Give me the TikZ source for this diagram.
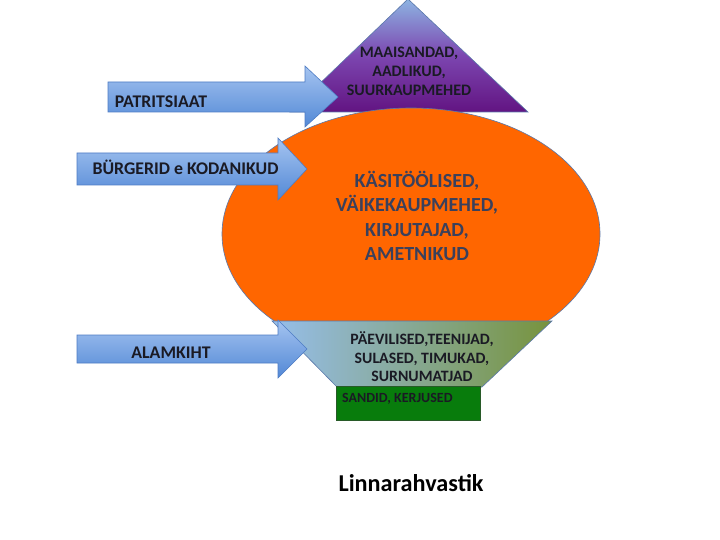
\documentclass[tikz,border=0pt]{standalone}
\usepackage{fontspec}
\setmainfont{Carlito}
\usetikzlibrary{shapes.geometric}
\definecolor{arrowlight}{RGB}{165,196,240}
\definecolor{arrowdark}{RGB}{82,136,214}
\definecolor{arrowline}{RGB}{78,124,196}
\definecolor{triblue}{RGB}{141,180,226}
\definecolor{trimid}{RGB}{124,70,176}
\definecolor{tripurple}{RGB}{98,20,130}
\definecolor{ellorange}{RGB}{255,102,0}
\definecolor{edgeblue}{RGB}{90,120,170}
\definecolor{olive}{RGB}{119,147,60}
\definecolor{trapblue}{RGB}{150,190,235}
\definecolor{boxgreen}{RGB}{8,124,12}
\definecolor{boxline}{RGB}{40,90,40}
\definecolor{darktext}{RGB}{26,26,36}
\definecolor{slatetext}{RGB}{58,64,92}
\tikzset{
  blockarrow/.style={top color=arrowlight, bottom color=arrowdark, draw=arrowline, line width=0.6pt, line join=miter},
  tri/.style={top color=triblue, bottom color=tripurple, middle color=trimid, draw=edgeblue, line width=0.6pt},
  ell/.style={fill=ellorange, draw=edgeblue, line width=0.6pt},
  trap/.style={left color=trapblue, middle color=olive, right color=olive, draw=edgeblue, line width=0.6pt},
  gbox/.style={fill=boxgreen, draw=boxline, line width=0.6pt},
  lbl/.style={inner sep=0pt, align=center, text=darktext},
}
\begin{document}
\begin{tikzpicture}[x=1pt,y=-1pt]
\useasboundingbox (0,0) rectangle (720,540);
\fill[white] (0,0) rectangle (720,540);

% apex of society
\draw[tri] (290,112) -- (408,-1) -- (528,112) -- cycle;
% middle class
\draw[ell] (411,234) ellipse [x radius=189pt, y radius=126pt];
% lower class
\draw[trap] (272,321) -- (552,321) -- (482,387) -- (337,387) -- cycle;
% poor
\draw[gbox] (336,386) rectangle (480,420);

% arrows
\draw[blockarrow] (108,82) -- (305,82) -- (305,66) -- (338,97) -- (305,127) -- (305,112) -- (108,112) -- cycle;
\draw[blockarrow] (77,153) -- (278,153) -- (278,138) -- (307,169) -- (278,200) -- (278,185) -- (77,185) -- cycle;
\draw[blockarrow] (77,335) -- (278,335) -- (278,320) -- (307,349) -- (278,378) -- (278,363) -- (77,363) -- cycle;

% texts
\node[lbl, font=\bfseries\fontsize{16}{19}\selectfont] (top) at (409,71) {MAAISANDAD,\\AADLIKUD,\\SUURKAUPMEHED};
\node[lbl, text=slatetext, font=\bfseries\fontsize{20}{24.2}\selectfont] (mid) at (417,216) {KÄSITÖÖLISED,\\VÄIKEKAUPMEHED,\\KIRJUTAJAD,\\AMETNIKUD};
\node[lbl, font=\bfseries\fontsize{15.8}{18.5}\selectfont] (low) at (422,357) {PÄEVILISED,TEENIJAD,\\SULASED, TIMUKAD,\\SURNUMATJAD};
\node[lbl, anchor=west, font=\bfseries\fontsize{14}{16}\selectfont] (poor) at (342,399) {SANDID, KERJUSED};

\node[lbl, font=\bfseries\fontsize{17.8}{20}\selectfont] (patr) at (161,102) {PATRITSIAAT};
\node[lbl, font=\bfseries\fontsize{17.8}{20}\selectfont] (burg) at (185.5,167) {BÜRGERID e KODANIKUD};
\node[lbl, font=\bfseries\fontsize{17.8}{20}\selectfont] (alam) at (171,353) {ALAMKIHT};

\node[lbl, text=black, font=\bfseries\fontsize{24.2}{28}\selectfont] (cap) at (411,483) {Linnarahvastik};
\end{tikzpicture}
\end{document}
